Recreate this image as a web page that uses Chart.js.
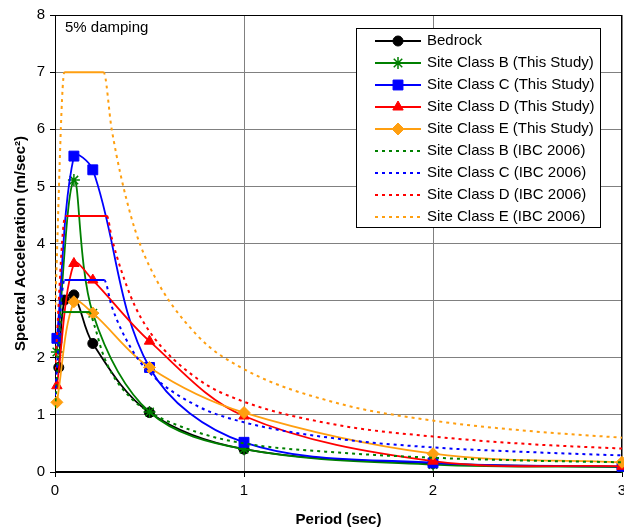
<!DOCTYPE html>
<html>
<head>
<meta charset="utf-8">
<script src="https://cdn.jsdelivr.net/npm/chart.js"></script>
<style>
  html, body { margin: 0; padding: 0; background: #fff; }
  #wrap { width: 624px; height: 532px; }
</style>
</head>
<body>
<div id="wrap"><canvas id="spectraChart" width="624" height="532"></canvas></div>
<script>
// Response spectra from this study: period (sec) -> spectral acceleration (m/sec^2)
const studyPeriods = [0.01, 0.1, 0.2, 0.5, 1, 2, 3];
const bedrockPeriods = [0.02, 0.05, 0.1, 0.2, 0.5, 1, 2, 3];
const bedrock = [1.83, 3.01, 3.10, 2.25, 1.04, 0.40, 0.15, 0.09];
const siteB = [2.10, 5.11, 2.78, 1.05, 0.40, 0.13, 0.09];
const siteC = [2.34, 5.53, 5.29, 1.83, 0.52, 0.16, 0.10];
const siteD = [1.51, 3.65, 3.36, 2.29, 0.98, 0.19, 0.10];
const siteE = [1.22, 2.98, 2.78, 1.83, 1.04, 0.32, 0.17];

// IBC 2006 design spectra
const ibcBPeriods = [0, 0.04, 0.18, 0.21, 0.25, 0.3, 0.4, 0.5, 0.75, 1, 1.5, 2, 2.5, 3];
const ibcB = [1.12, 2.80, 2.80, 2.55, 2.10, 1.73, 1.30, 1.05, 0.70, 0.50, 0.34, 0.25, 0.20, 0.17];
const ibcCPeriods = [0, 0.05, 0.26, 0.3, 0.4, 0.5, 0.75, 1, 1.5, 2, 2.5, 3];
const ibcC = [1.34, 3.36, 3.36, 2.90, 2.18, 1.74, 1.16, 0.87, 0.58, 0.43, 0.35, 0.29];
const ibcDPeriods = [0, 0.055, 0.275, 0.3, 0.4, 0.5, 0.75, 1, 1.5, 2, 2.5, 3];
const ibcD = [1.79, 4.48, 4.48, 4.10, 3.08, 2.46, 1.64, 1.23, 0.82, 0.62, 0.49, 0.41];
const ibcEPeriods = [0, 0.05, 0.257, 0.3, 0.4, 0.5, 0.75, 1, 1.5, 2, 2.5, 3];
const ibcE = [2.80, 7.00, 7.00, 6.00, 4.50, 3.60, 2.40, 1.80, 1.20, 0.90, 0.72, 0.60];

const FONT = '"Liberation Sans", Arial, sans-serif';
Chart.defaults.font.family = FONT;
Chart.defaults.font.size = 15;
Chart.defaults.color = '#000';

function pts(xs, ys) {
    return xs.map((x, i) => ({ x: x, y: ys[i] }));
}

function study(label, xs, ys, color, style, radius) {
    return {
        label: label,
        data: pts(xs, ys),
        borderColor: color,
        backgroundColor: color,
        borderWidth: 1.8,
        pointStyle: style,
        pointRadius: radius,
        pointBorderWidth: style === 'star' ? 1.5 : 1,
        pointBackgroundColor: color,
        pointBorderColor: color,
        showLine: true,
        tension: 0.35,
        clip: 10,
    };
}

function ibc(label, xs, ys, color) {
    return {
        label: label,
        data: pts(xs, ys),
        borderColor: color,
        backgroundColor: color,
        borderWidth: 2,
        borderDash: [3, 4],
        pointRadius: 0,
        showLine: true,
        cubicInterpolationMode: 'monotone',
        // flat plateau drawn solid
        segment: {
            borderDash: ctx => ctx.p0.parsed.y === ctx.p1.parsed.y ? [] : undefined,
        },
    };
}

const ORANGE = '#FF9F10';
const datasets = [
    study('Bedrock', bedrockPeriods, bedrock, '#000000', 'circle', 5),
    study('Site Class B (This Study)', studyPeriods, siteB, '#008000', 'star', 6),
    study('Site Class C (This Study)', studyPeriods, siteC, '#0000FF', 'rect', 7),
    study('Site Class D (This Study)', studyPeriods, siteD, '#FF0000', 'triangle', 6),
    study('Site Class E (This Study)', studyPeriods, siteE, ORANGE, 'rectRot', 6),
    ibc('Site Class B (IBC 2006)', ibcBPeriods, ibcB, '#008000'),
    ibc('Site Class C (IBC 2006)', ibcCPeriods, ibcC, '#0000FF'),
    ibc('Site Class D (IBC 2006)', ibcDPeriods, ibcD, '#FF0000'),
    ibc('Site Class E (IBC 2006)', ibcEPeriods, ibcE, ORANGE),
];
// later series on top
datasets.forEach((d, i) => { d.order = datasets.length - i; });

// black frame round the plot area
const frame = {
    id: 'frame',
    beforeDatasetsDraw(chart) {
        const a = chart.chartArea, c = chart.ctx;
        c.save();
        c.strokeStyle = '#000';
        c.lineWidth = 1;
        c.strokeRect(Math.round(a.left) + 0.5, Math.round(a.top) + 0.5,
            Math.round(a.right - a.left) - 1, Math.round(a.bottom - a.top) - 1);
        c.restore();
    }
};

// legend box inside the plot and the damping note
const boxLegend = {
    id: 'boxLegend',
    afterDatasetsDraw(chart) {
        const c = chart.ctx, a = chart.chartArea;
        c.save();
        c.font = '15px ' + FONT;
        c.textBaseline = 'middle';
        c.fillStyle = '#000';
        c.fillText('5% damping', a.left + 10, a.top + 13);

        const bx = 356.5, by = 28.5, bw = 244, bh = 199;
        c.fillStyle = '#fff';
        c.fillRect(bx, by, bw, bh);
        c.strokeStyle = '#000';
        c.lineWidth = 1;
        c.strokeRect(bx, by, bw, bh);

        chart.data.datasets.forEach((d, i) => {
            const y = 41 + i * 22;
            c.strokeStyle = d.borderColor;
            c.lineWidth = d.borderWidth;
            c.setLineDash(d.borderDash || []);
            c.beginPath();
            c.moveTo(375, y);
            c.lineTo(421, y);
            c.stroke();
            c.setLineDash([]);
            if (d.pointRadius > 0) {
                c.fillStyle = d.borderColor;
                c.strokeStyle = d.borderColor;
                c.lineWidth = d.pointBorderWidth;
                Chart.helpers.drawPoint(c, {
                    pointStyle: d.pointStyle,
                    radius: d.pointRadius,
                    borderWidth: d.pointBorderWidth,
                    rotation: 0,
                }, 398, y);
            }
            c.fillStyle = '#000';
            c.fillText(d.label, 427, y);
        });
        c.restore();
    }
};

const canvas = document.getElementById('spectraChart');
new Chart(canvas.getContext('2d'), {
    type: 'scatter',
    data: { datasets: datasets },
    options: {
        responsive: false,
        animation: false,
        events: [],
        layout: { autoPadding: false, padding: { top: 15, right: 2, left: 0, bottom: 0 } },
        plugins: { legend: { display: false }, tooltip: { enabled: false } },
        scales: {
            x: {
                type: 'linear',
                min: 0,
                max: 3,
                ticks: { stepSize: 1, padding: 5, color: '#000' },
                grid: { color: '#808080', tickColor: '#000', tickLength: 5 },
                border: { color: '#000', width: 1 },
                title: {
                    display: true,
                    text: 'Period (sec)',
                    font: { size: 15, weight: 'bold' },
                    padding: { top: 0, bottom: 3 },
                },
                afterFit(s) { s.height = 60; s.paddingLeft = 0; s.paddingRight = 0; },
            },
            y: {
                min: 0,
                max: 8,
                ticks: { stepSize: 1, padding: 5, color: '#000' },
                grid: { color: '#808080', tickColor: '#000', tickLength: 5 },
                border: { color: '#000', width: 1 },
                title: {
                    display: true,
                    text: 'Spectral Acceleration (m/sec²)',
                    font: { size: 15, weight: 'bold' },
                    padding: { top: 12, bottom: 0 },
                },
                afterFit(s) { s.width = 55; },
            },
        },
    },
    plugins: [frame, boxLegend],
});
</script>
</body>
</html>
